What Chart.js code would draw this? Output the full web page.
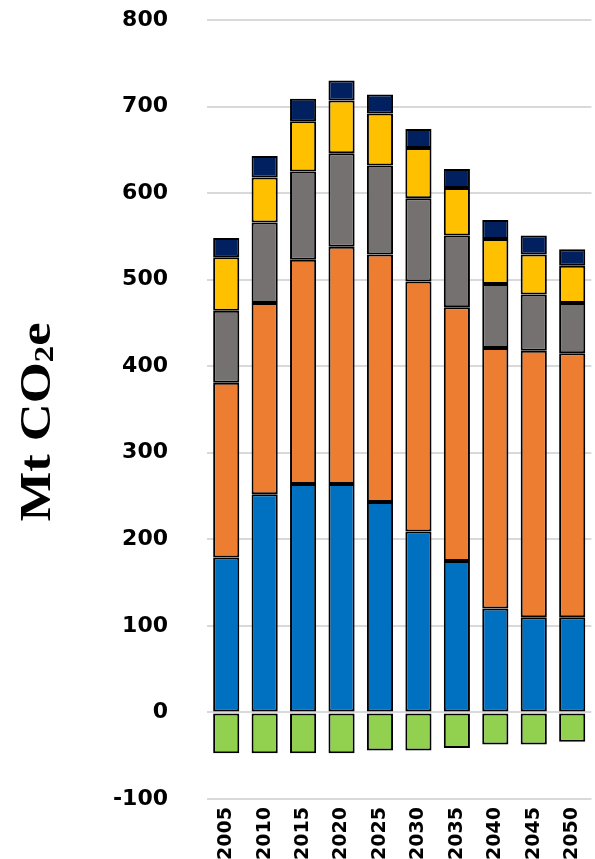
<!DOCTYPE html>
<html>
<head>
<meta charset="utf-8">
<title>Emissions by source, 2005-2050</title>
<script src="https://cdn.jsdelivr.net/npm/chart.js@4"></script>
<style>
  html, body { margin: 0; padding: 0; background: #fff; }
  #wrap { width: 595px; height: 859px; position: relative; }
</style>
</head>
<body>
<div id="wrap"><canvas id="chart"></canvas></div>
<script>
// values, Mt CO2e
const years = ['2005', '2010', '2015', '2020', '2025', '2030', '2035', '2040', '2045', '2050'];
const blueVals   = [179, 252, 264, 264, 243, 209, 175, 120, 110, 110];
const orangeVals = [202, 221, 259, 274, 286, 289, 293, 301, 308, 305];
const grayVals   = [83, 93, 102, 108, 103, 96, 83, 74, 65, 58];
const yellowVals = [62, 52, 58, 61, 60, 58, 55, 52, 46, 43];
const navyVals   = [22, 25, 26, 23, 22, 22, 22, 22, 22, 19];
const greenVals  = [-47, -47, -47, -47, -44, -44, -41, -37, -37, -34];
const yMin = -100, yMax = 800, yStep = 100;

const series = [
  { data: blueVals,   color: '#0070C0' },
  { data: orangeVals, color: '#ED7D31' },
  { data: grayVals,   color: '#767171' },
  { data: yellowVals, color: '#FFC000' },
  { data: navyVals,   color: '#002060' },
  { data: greenVals,  color: '#92D050' }
];

// y title with a real subscript 2
const yTitle = {
  id: 'yTitle',
  afterDraw(chart) {
    const ctx = chart.ctx;
    const big = 'bold 45px "Liberation Serif"';
    const small = 'bold 28px "Liberation Serif"';
    ctx.save();
    ctx.translate(50, 422);
    ctx.rotate(-Math.PI / 2);
    ctx.scale(1.17, 1);
    ctx.fillStyle = '#000';
    ctx.textBaseline = 'alphabetic';
    ctx.font = big;
    const w1 = ctx.measureText('Mt CO').width;
    const w3 = ctx.measureText('e').width;
    ctx.font = small;
    const w2 = ctx.measureText('2').width;
    let x = -(w1 + w2 + w3) / 2;
    ctx.font = big;
    ctx.fillText('Mt CO', x, 0);
    x += w1;
    ctx.font = small;
    ctx.fillText('2', x, 3);
    x += w2;
    ctx.font = big;
    ctx.fillText('e', x, 0);
    ctx.restore();
  }
};

window.addEventListener('DOMContentLoaded', () => {
  new Chart(document.getElementById('chart'), {
    type: 'bar',
    data: {
      labels: years,
      datasets: series.map(s => ({
        data: s.data,
        backgroundColor: s.color,
        borderColor: '#000',
        borderWidth: 2,
        borderSkipped: false,
        barPercentage: 0.68,
        categoryPercentage: 1
      }))
    },
    options: {
      responsive: true,
      maintainAspectRatio: false,
      animation: false,
      layout: { padding: { top: 20, right: 0, bottom: 0, left: 0 } },
      plugins: { legend: { display: false }, tooltip: { enabled: false } },
      scales: {
        x: {
          stacked: true,
          grid: { display: false },
          border: { display: false },
          ticks: {
            color: '#000',
            font: { family: 'DejaVu Sans', size: 19, weight: 'bold' },
            minRotation: 90,
            maxRotation: 90,
            padding: 0
          },
          afterFit: s => { s.height = 60; }
        },
        y: {
          stacked: true,
          min: yMin,
          max: yMax,
          // invisible tick marks make the gap between labels and bars
          grid: { color: '#D9D9D9', lineWidth: 2, tickLength: 39, tickColor: 'rgba(0,0,0,0)' },
          border: { display: false },
          ticks: {
            stepSize: yStep,
            color: '#000',
            font: { family: 'DejaVu Sans', size: 22, weight: 'bold' },
            padding: 0
          },
          afterFit: s => { s.width = 207; }
        }
      }
    },
    plugins: [yTitle]
  });
});
</script>
</body>
</html>
